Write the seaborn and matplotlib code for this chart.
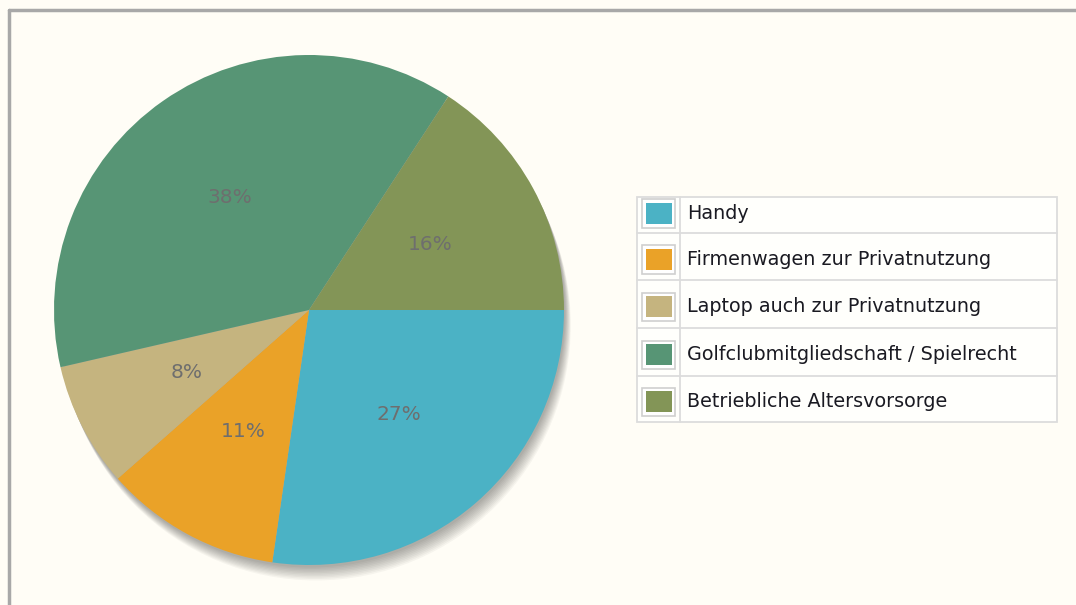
import matplotlib
matplotlib.use("Agg")
import matplotlib.pyplot as plt
import seaborn as sns
from matplotlib.patches import Rectangle, Circle
from matplotlib.lines import Line2D

categories = ["Handy", "Firmenwagen zur Privatnutzung", "Laptop auch zur Privatnutzung",
              "Golfclubmitgliedschaft / Spielrecht", "Betriebliche Altersvorsorge"]
values = [27.3, 11.2, 7.9, 37.8, 15.8]
colors = ["#4BB2C5", "#EAA228", "#C5B47F", "#579575", "#839557"]

sns.set_theme(style="white")
plt.rcParams['font.family'] = ['DejaVu Sans']
palette = sns.color_palette(colors)

W, H = 1076, 605
BG = "#FFFDF6"
fig = plt.figure(figsize=(W / 100, H / 100), dpi=100, facecolor=BG)

# frame lines (top and left)
fig.add_artist(Line2D([9 / W, 9 / W], [0, 1 - 10 / H], transform=fig.transFigure, color="#A8A8A8", lw=2.5))
fig.add_artist(Line2D([9 / W, 1], [1 - 10 / H, 1 - 10 / H], transform=fig.transFigure, color="#A8A8A8", lw=2.5))

cx, cy, R = 309, 310, 255
ax = fig.add_axes([(cx - R) / W, 1 - (cy + R) / H, 2 * R / W, 2 * R / H])
ax.axis("off")

wedges, texts, autotexts = ax.pie(values, colors=palette, startangle=0, counterclock=False,
                                  radius=1.0, autopct="%1.0f%%", pctdistance=0.54,
                                  textprops=dict(color="#6E6E6E", fontsize=14.5),
                                  wedgeprops=dict(linewidth=0), frame=False)
ax.set_xlim(-1, 1)
ax.set_ylim(-1, 1)
ax.set_aspect("equal")

# shadow
for i in range(10):
    off = 0.008 + i * 0.0045
    ax.add_patch(Circle((off * 0.55, -off * 1.25), 1.0, facecolor="black", alpha=0.035,
                        edgecolor="none", clip_on=False, zorder=0))
for w in wedges:
    w.set_zorder(2)
for t in autotexts:
    t.set_zorder(3)

# legend table (layout in pixels)
lx0, lx1 = 637, 1057
row_edges = [197, 233, 280, 328, 376, 422]
content_mid = [213.5, 259.5, 306.5, 354.5, 401.5]
sep = 680
grid = "#DCDCDC"

def fx(x):
    return x / W

def fy(y):
    return 1 - y / H

ly0, ly1 = row_edges[0], row_edges[-1]
fig.add_artist(Rectangle((fx(lx0), fy(ly1)), (lx1 - lx0) / W, (ly1 - ly0) / H,
                         transform=fig.transFigure, facecolor="#FFFFFC", edgecolor=grid, lw=1.3))
fig.add_artist(Line2D([fx(sep), fx(sep)], [fy(ly0), fy(ly1)], transform=fig.transFigure, color=grid, lw=1.3))
for i, (lab, col) in enumerate(zip(categories, palette)):
    if i > 0:
        y = row_edges[i]
        fig.add_artist(Line2D([fx(lx0), fx(lx1)], [fy(y), fy(y)], transform=fig.transFigure, color=grid, lw=1.3))
    mid = content_mid[i]
    fig.add_artist(Rectangle((fx(642), fy(mid + 14)), 33 / W, 28 / H, transform=fig.transFigure,
                             facecolor="white", edgecolor="#CFCFCF", lw=1.2))
    fig.add_artist(Rectangle((fx(645.5), fy(mid + 10.5)), 26 / W, 21 / H, transform=fig.transFigure,
                             facecolor=col, edgecolor="none"))
    fig.text(fx(687), fy(mid), lab, fontsize=13.8, color="#1A1A22", va="center", ha="left")

fig.savefig("out.png", dpi=100, facecolor=BG)
